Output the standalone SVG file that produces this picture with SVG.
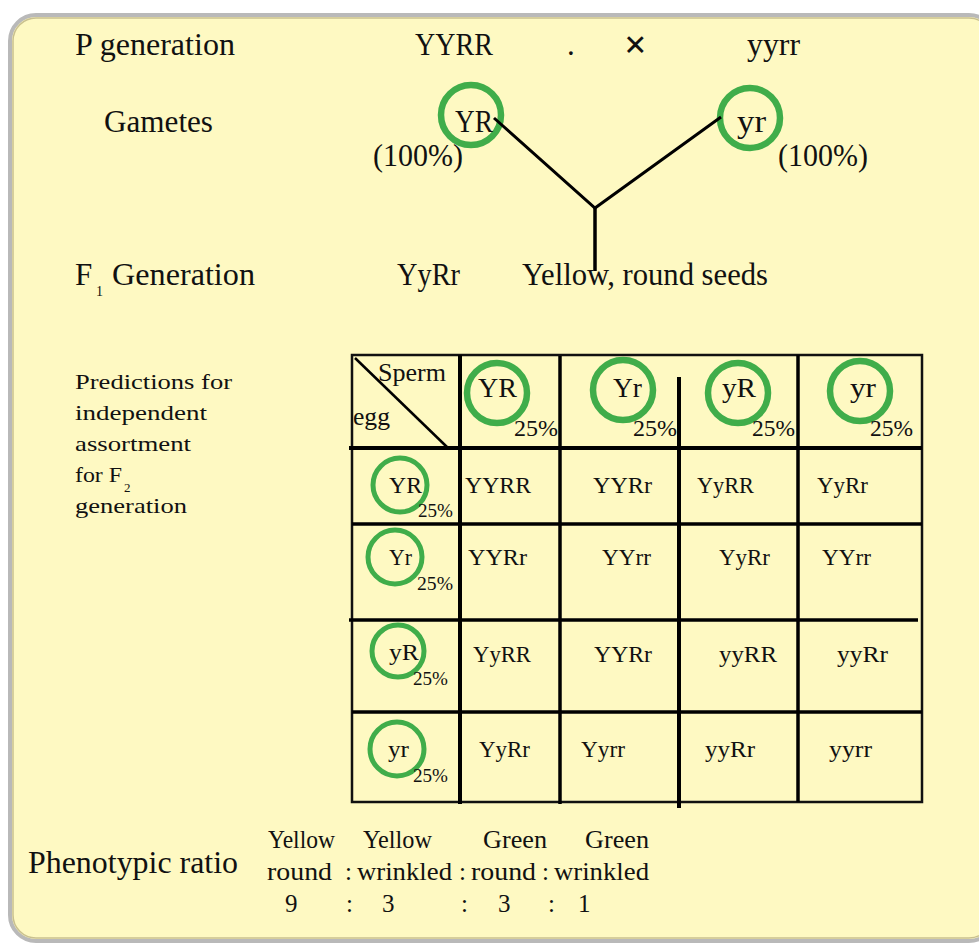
<svg xmlns="http://www.w3.org/2000/svg" width="979" height="945" viewBox="0 0 979 945">
<style>
  text { font-family: "Liberation Serif", "Times New Roman", Times, serif; fill: #111; }
  .lg { font-size: 31px; }
  .hd { font-size: 28px; }
  .pc { font-size: 23px; }
  .cell { font-size: 24px; }
  .rh { font-size: 24px; }
  .rp { font-size: 18px; }
  .side { font-size: 21px; }
  .ratio { font-size: 25px; }
  .ring { fill: none; stroke: #40ad4a; stroke-width: 6.5; }
  .ring2 { fill: none; stroke: #40ad4a; stroke-width: 5; }
  .ln { stroke: #000; stroke-linecap: butt; fill: none; }
</style>
<rect width="979" height="945" fill="#ffffff"/>
<!-- panel -->
<rect x="10" y="15" width="985" height="926" rx="26" fill="#fef9c2" stroke="#b9b9b9" stroke-width="4"/>
<rect x="13" y="18" width="979" height="920" rx="23" fill="none" stroke="#c9c08f" stroke-width="1.5"/>

<g id="p-generation">
  <text class="lg" x="75" y="55" textLength="160" lengthAdjust="spacingAndGlyphs">P generation</text>
  <text class="lg" x="415" y="55" textLength="78" lengthAdjust="spacingAndGlyphs">YYRR</text>
  <text class="lg" x="567" y="55">.</text>
  <text x="624" y="58" font-family="Liberation Sans, Arial, sans-serif" font-size="40" font-weight="bold">×</text>
  <text class="lg" x="747" y="55" textLength="53" lengthAdjust="spacingAndGlyphs">yyrr</text>
</g>

<g id="gametes-label">
  <text class="lg" x="104" y="132" textLength="109" lengthAdjust="spacingAndGlyphs">Gametes</text>
</g>
<g id="gamete-YR">
  <circle class="ring" cx="471" cy="115" r="30"/>
  <text class="lg" x="455" y="132" textLength="38" lengthAdjust="spacingAndGlyphs">YR</text>
  <text class="lg" x="373" y="166" textLength="90" lengthAdjust="spacingAndGlyphs">(100%)</text>
</g>
<g id="gamete-yr">
  <circle class="ring" cx="750" cy="118" r="30"/>
  <text class="lg" x="737" y="132" textLength="29" lengthAdjust="spacingAndGlyphs">yr</text>
  <text class="lg" x="778" y="166" textLength="90" lengthAdjust="spacingAndGlyphs">(100%)</text>
</g>

<g id="connectors">
  <polyline class="ln" stroke-width="3" points="494,118 595,208 721,117"/>
  <line class="ln" stroke-width="3.5" x1="595" y1="207" x2="595" y2="271"/>
</g>

<g id="f1-generation">
  <text class="lg" x="75" y="285">F</text>
  <text x="96" y="296" font-size="14">1</text>
  <text class="lg" x="112" y="285" textLength="143" lengthAdjust="spacingAndGlyphs">Generation</text>
  <text class="lg" x="397" y="285" textLength="63" lengthAdjust="spacingAndGlyphs">YyRr</text>
  <text class="lg" x="522" y="285" textLength="246" lengthAdjust="spacingAndGlyphs">Yellow, round seeds</text>
</g>

<g id="predictions-label">
  <text class="side" x="75" y="389" textLength="157" lengthAdjust="spacingAndGlyphs">Predictions for</text>
  <text class="side" x="75" y="420" textLength="132" lengthAdjust="spacingAndGlyphs">independent</text>
  <text class="side" x="75" y="451" textLength="116" lengthAdjust="spacingAndGlyphs">assortment</text>
  <text class="side" x="75" y="482" textLength="47" lengthAdjust="spacingAndGlyphs">for F</text>
  <text x="124" y="492" font-size="13">2</text>
  <text class="side" x="75" y="513" textLength="112" lengthAdjust="spacingAndGlyphs">generation</text>
</g>

<g id="punnett-grid">
  <rect x="352" y="355" width="570" height="447" fill="none" stroke="#111" stroke-width="2.5"/>
  <line class="ln" stroke-width="2.5" x1="355" y1="358" x2="447" y2="447"/>
  <line class="ln" stroke-width="4" x1="460" y1="355" x2="460" y2="804"/>
  <line class="ln" stroke-width="3.5" x1="560" y1="356" x2="560" y2="804"/>
  <line class="ln" stroke-width="4" x1="679" y1="377" x2="679" y2="808"/>
  <line class="ln" stroke-width="3.5" x1="798" y1="355" x2="798" y2="802"/>
  <line class="ln" stroke-width="4" x1="349" y1="448" x2="922" y2="448"/>
  <line class="ln" stroke-width="3.5" x1="352" y1="524" x2="922" y2="524"/>
  <line class="ln" stroke-width="3.5" x1="349" y1="620" x2="918" y2="620"/>
  <line class="ln" stroke-width="3.5" x1="352" y1="712" x2="922" y2="712"/>
</g>

<g id="corner-label">
  <text x="378" y="381" font-size="25" textLength="68" lengthAdjust="spacingAndGlyphs">Sperm</text>
  <text x="353" y="425" font-size="25" textLength="37" lengthAdjust="spacingAndGlyphs">egg</text>
</g>

<g id="sperm-YR">
  <circle class="ring" cx="497" cy="393" r="30"/>
  <text class="hd" x="478" y="397" textLength="39" lengthAdjust="spacingAndGlyphs">YR</text>
  <text class="pc" x="514" y="436" textLength="44" lengthAdjust="spacingAndGlyphs">25%</text>
</g>
<g id="sperm-Yr">
  <circle class="ring" cx="623" cy="390" r="30"/>
  <text class="hd" x="613" y="397" textLength="29" lengthAdjust="spacingAndGlyphs">Yr</text>
  <text class="pc" x="633" y="436" textLength="44" lengthAdjust="spacingAndGlyphs">25%</text>
</g>
<g id="sperm-yR">
  <circle class="ring" cx="738" cy="393" r="30"/>
  <text class="hd" x="722" y="397" textLength="34" lengthAdjust="spacingAndGlyphs">yR</text>
  <text class="pc" x="752" y="436" textLength="43" lengthAdjust="spacingAndGlyphs">25%</text>
</g>
<g id="sperm-yr">
  <circle class="ring" cx="860" cy="391" r="30"/>
  <text class="hd" x="850" y="397" textLength="26" lengthAdjust="spacingAndGlyphs">yr</text>
  <text class="pc" x="870" y="436" textLength="43" lengthAdjust="spacingAndGlyphs">25%</text>
</g>

<g id="egg-YR">
  <circle class="ring2" cx="400" cy="485" r="27"/>
  <text class="rh" x="389" y="493" textLength="33" lengthAdjust="spacingAndGlyphs">YR</text>
  <text class="rp" x="418" y="517" textLength="35" lengthAdjust="spacingAndGlyphs">25%</text>
</g>
<g id="egg-Yr">
  <circle class="ring2" cx="395" cy="557" r="27"/>
  <text class="rh" x="389" y="565" textLength="23" lengthAdjust="spacingAndGlyphs">Yr</text>
  <text class="rp" x="417" y="590" textLength="36" lengthAdjust="spacingAndGlyphs">25%</text>
</g>
<g id="egg-yR">
  <circle class="ring2" cx="398" cy="651" r="26"/>
  <text class="rh" x="389" y="660" textLength="30" lengthAdjust="spacingAndGlyphs">yR</text>
  <text class="rp" x="413" y="685" textLength="35" lengthAdjust="spacingAndGlyphs">25%</text>
</g>
<g id="egg-yr">
  <circle class="ring2" cx="397" cy="749" r="27"/>
  <text class="rh" x="388" y="757" textLength="21" lengthAdjust="spacingAndGlyphs">yr</text>
  <text class="rp" x="413" y="782" textLength="35" lengthAdjust="spacingAndGlyphs">25%</text>
</g>

<g id="cells">
  <text class="cell" x="465" y="493" textLength="66" lengthAdjust="spacingAndGlyphs">YYRR</text>
  <text class="cell" x="593" y="493" textLength="59" lengthAdjust="spacingAndGlyphs">YYRr</text>
  <text class="cell" x="697" y="493" textLength="57" lengthAdjust="spacingAndGlyphs">YyRR</text>
  <text class="cell" x="817" y="493" textLength="51" lengthAdjust="spacingAndGlyphs">YyRr</text>

  <text class="cell" x="468" y="565" textLength="59" lengthAdjust="spacingAndGlyphs">YYRr</text>
  <text class="cell" x="602" y="565" textLength="49" lengthAdjust="spacingAndGlyphs">YYrr</text>
  <text class="cell" x="719" y="565" textLength="51" lengthAdjust="spacingAndGlyphs">YyRr</text>
  <text class="cell" x="822" y="565" textLength="49" lengthAdjust="spacingAndGlyphs">YYrr</text>

  <text class="cell" x="473" y="662" textLength="58" lengthAdjust="spacingAndGlyphs">YyRR</text>
  <text class="cell" x="594" y="662" textLength="58" lengthAdjust="spacingAndGlyphs">YYRr</text>
  <text class="cell" x="719" y="662" textLength="58" lengthAdjust="spacingAndGlyphs">yyRR</text>
  <text class="cell" x="837" y="662" textLength="51" lengthAdjust="spacingAndGlyphs">yyRr</text>

  <text class="cell" x="479" y="757" textLength="51" lengthAdjust="spacingAndGlyphs">YyRr</text>
  <text class="cell" x="581" y="757" textLength="44" lengthAdjust="spacingAndGlyphs">Yyrr</text>
  <text class="cell" x="705" y="757" textLength="50" lengthAdjust="spacingAndGlyphs">yyRr</text>
  <text class="cell" x="829" y="757" textLength="43" lengthAdjust="spacingAndGlyphs">yyrr</text>
</g>

<g id="phenotypic-ratio">
  <text x="28" y="873" font-size="31" textLength="210" lengthAdjust="spacingAndGlyphs">Phenotypic ratio</text>
  <text class="ratio" x="268" y="848" textLength="67" lengthAdjust="spacingAndGlyphs">Yellow</text>
  <text class="ratio" x="363" y="848" textLength="69" lengthAdjust="spacingAndGlyphs">Yellow</text>
  <text class="ratio" x="483" y="848" textLength="64" lengthAdjust="spacingAndGlyphs">Green</text>
  <text class="ratio" x="585" y="848" textLength="64" lengthAdjust="spacingAndGlyphs">Green</text>

  <text class="ratio" x="267" y="880" textLength="65" lengthAdjust="spacingAndGlyphs">round</text>
  <text class="ratio" x="345" y="880">:</text>
  <text class="ratio" x="357" y="880" textLength="95" lengthAdjust="spacingAndGlyphs">wrinkled</text>
  <text class="ratio" x="459" y="880">:</text>
  <text class="ratio" x="471" y="880" textLength="65" lengthAdjust="spacingAndGlyphs">round</text>
  <text class="ratio" x="542" y="880">:</text>
  <text class="ratio" x="554" y="880" textLength="95" lengthAdjust="spacingAndGlyphs">wrinkled</text>

  <text class="ratio" x="285" y="912">9</text>
  <text class="ratio" x="346" y="912">:</text>
  <text class="ratio" x="382" y="912">3</text>
  <text class="ratio" x="461" y="912">:</text>
  <text class="ratio" x="498" y="912">3</text>
  <text class="ratio" x="548" y="912">:</text>
  <text class="ratio" x="578" y="912">1</text>
</g>
</svg>
